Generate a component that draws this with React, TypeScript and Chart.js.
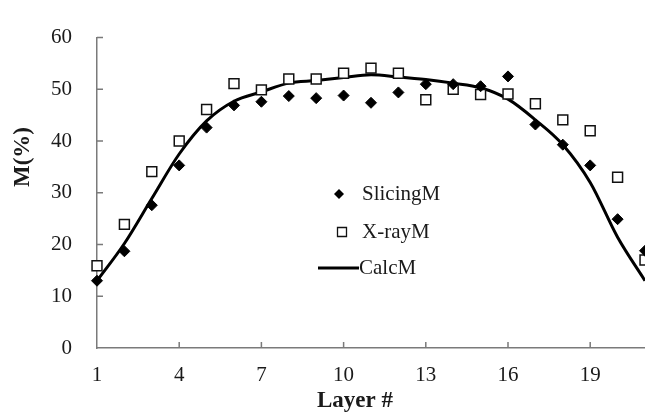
import React, { useEffect, useRef } from "react";
import { Chart, registerables } from "chart.js";

Chart.register(...registerables);

const layers = ["1","2","3","4","5","6","7","8","9","10","11","12","13","14","15","16","17","18","19","20","21"];
const slicingM = [13.0, 18.7, 27.6, 35.3, 42.6, 46.9, 47.6, 48.7, 48.3, 48.8, 47.4, 49.4, 51.0, 51.0, 50.6, 52.5, 43.2, 39.3, 35.3, 24.9, 18.8];
const xrayM = [15.9, 23.9, 34.1, 40.0, 46.1, 51.1, 49.9, 52.0, 52.0, 53.1, 54.1, 53.1, 48.0, 50.0, 49.0, 49.1, 47.2, 44.1, 42.0, 33.0, 17.0];
const calcM = [13.0, 20.2, 28.9, 37.5, 43.9, 47.7, 49.5, 51.2, 51.7, 52.3, 52.8, 52.4, 51.9, 51.2, 50.3, 48.1, 44.1, 39.3, 32.0, 21.4, 13.0];
const seriesNames = ["SlicingM", "X-rayM", "CalcM"];
const xTitle = "Layer #";
const yTitle = "M(%)";

const FONT = "'Liberation Serif', 'Times New Roman', serif";
const AXIS_COLOR = "#7a7a7a";
const TEXT_COLOR = "#1a1a1a";

const decor = {
  id: "decor",
  afterDraw(chart: any) {
    const { ctx, chartArea, scales } = chart;
    const xs = scales.x;
    const ys = scales.y;
    ctx.save();
    // inward tick marks
    ctx.strokeStyle = AXIS_COLOR;
    ctx.lineWidth = 1.5;
    ctx.beginPath();
    xs.ticks.forEach((_t: any, i: number) => {
      if (i % 3 === 0 && i > 0) {
        const px = xs.getPixelForTick(i);
        ctx.moveTo(px, chartArea.bottom);
        ctx.lineTo(px, chartArea.bottom - 6);
      }
    });
    ys.ticks.forEach((t: any) => {
      if (t.value > 0) {
        const py = ys.getPixelForValue(t.value);
        ctx.moveTo(chartArea.left, py);
        ctx.lineTo(chartArea.left + 6, py);
      }
    });
    ctx.stroke();

    // axis titles
    ctx.fillStyle = TEXT_COLOR;
    ctx.font = `bold 23px ${FONT}`;
    ctx.textAlign = "center";
    ctx.textBaseline = "middle";
    ctx.fillText(xTitle, 355, 401);
    ctx.save();
    ctx.translate(23, 157);
    ctx.rotate(-Math.PI / 2);
    ctx.fillText(yTitle, 0, 0);
    ctx.restore();

    // legend
    ctx.font = `21px ${FONT}`;
    ctx.textAlign = "left";
    ctx.textBaseline = "middle";
    const dx = 339, dy = 194, dr = 5;
    ctx.fillStyle = "#000";
    ctx.beginPath();
    ctx.moveTo(dx, dy - dr);
    ctx.lineTo(dx + dr, dy);
    ctx.lineTo(dx, dy + dr);
    ctx.lineTo(dx - dr, dy);
    ctx.closePath();
    ctx.fill();
    ctx.fillStyle = TEXT_COLOR;
    ctx.fillText(seriesNames[0], 362, 194);
    ctx.strokeStyle = "#111";
    ctx.lineWidth = 1.3;
    ctx.fillStyle = "#fff";
    ctx.beginPath();
    ctx.rect(342 - 4.5, 232 - 4.5, 9, 9);
    ctx.fill();
    ctx.stroke();
    ctx.fillStyle = TEXT_COLOR;
    ctx.fillText(seriesNames[1], 362, 232);
    ctx.strokeStyle = "#000";
    ctx.lineWidth = 3;
    ctx.beginPath();
    ctx.moveTo(318, 268);
    ctx.lineTo(359, 268);
    ctx.stroke();
    ctx.fillText(seriesNames[2], 359, 268);
    ctx.restore();
  },
};

export default function App() {
  const ref = useRef<HTMLCanvasElement | null>(null);

  useEffect(() => {
    document.body.style.margin = "0";
    if (!ref.current) return;
    Chart.defaults.font.family = FONT;
    const chart = new Chart(ref.current, {
      type: "line",
      data: {
        labels: layers,
        datasets: [
          {
            label: seriesNames[0],
            data: slicingM,
            showLine: false,
            pointStyle: "rectRot",
            pointRadius: 5.5,
            pointBackgroundColor: "#000",
            pointBorderColor: "#000",
            pointBorderWidth: 1,
            clip: false,
            order: 1,
          },
          {
            label: seriesNames[1],
            data: xrayM,
            showLine: false,
            pointStyle: "rect",
            pointRadius: 7,
            pointBackgroundColor: "#fff",
            pointBorderColor: "#111",
            pointBorderWidth: 1.5,
            clip: false,
            order: 2,
          },
          {
            label: seriesNames[2],
            data: calcM,
            borderColor: "#000",
            borderWidth: 3,
            pointRadius: 0,
            cubicInterpolationMode: "monotone",
            fill: false,
            order: 3,
          },
        ],
      },
      options: {
        animation: false,
        responsive: true,
        maintainAspectRatio: false,
        layout: { autoPadding: false, padding: { top: 20, right: 0, left: 0, bottom: 0 } },
        plugins: { legend: { display: false }, tooltip: { enabled: false } },
        scales: {
          x: {
            type: "category",
            offset: false,
            grid: { display: false, drawTicks: false },
            border: { display: true, color: AXIS_COLOR, width: 1.5 },
            ticks: {
              autoSkip: false,
              maxRotation: 0,
              padding: 14.5,
              color: TEXT_COLOR,
              font: { size: 21, family: FONT },
              callback: (_v: any, i: number) => (i % 3 === 0 ? layers[i] : ""),
            },
            afterFit: (s: any) => {
              s.height = 66;
              s.paddingLeft = 0;
              s.paddingRight = 0;
            },
          },
          y: {
            min: 0,
            max: 60,
            grid: { display: false, drawTicks: false },
            border: { display: true, color: AXIS_COLOR, width: 1.5 },
            ticks: {
              stepSize: 10,
              padding: 25,
              color: TEXT_COLOR,
              font: { size: 21, family: FONT },
            },
            afterFit: (s: any) => {
              s.width = 97;
            },
          },
        },
      },
      plugins: [decor],
    });
    return () => chart.destroy();
  }, []);

  return (
    <div style={{ position: "relative", width: 645, height: 414 }}>
      <canvas ref={ref} />
    </div>
  );
}
